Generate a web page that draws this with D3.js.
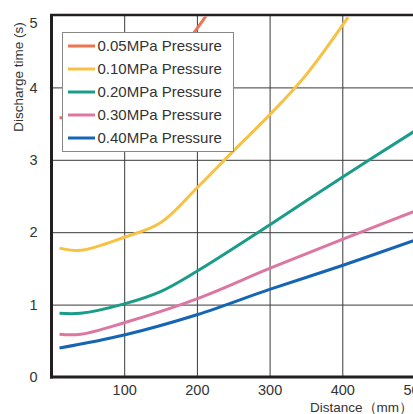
<!DOCTYPE html>
<html>
<head>
<meta charset="utf-8">
<script src="https://cdn.jsdelivr.net/npm/d3@7"></script>
<style>
  body { margin: 0; background: #fff; }
  svg { display: block; font-family: "Liberation Sans", Arial, sans-serif; }
</style>
</head>
<body>
<script>
// ---- data ----
var series_names = ["0.05MPa Pressure", "0.10MPa Pressure", "0.20MPa Pressure", "0.30MPa Pressure", "0.40MPa Pressure"];
var series_colors = ["#ee7552", "#f7c143", "#1a9c88", "#dc77a2", "#1565b4"];

var p005 = [[11, 3.58], [50, 3.62], [100, 3.85], [150, 4.2], [197, 4.77], [220, 5.1]];
var p010 = [[11, 1.78], [40, 1.75], [100, 1.93], [150, 2.13], [200, 2.61], [250, 3.12], [300, 3.62], [350, 4.17], [408, 4.97]];
var p020 = [[11, 0.88], [40, 0.88], [100, 1.01], [150, 1.18], [200, 1.46], [300, 2.1], [400, 2.76], [500, 3.4]];
var p030 = [[11, 0.59], [40, 0.59], [100, 0.75], [200, 1.08], [300, 1.5], [400, 1.9], [500, 2.29]];
var p040 = [[11, 0.4], [100, 0.58], [200, 0.86], [300, 1.21], [400, 1.54], [500, 1.89]];
var all_series = [p005, p010, p020, p030, p040];

var x_ticks = [100, 200, 300, 400, 500];
var y_ticks = [0, 1, 2, 3, 4, 5];

// ---- layout ----
var chart_w = 413, chart_h = 414;
var plot_left = 51.5, plot_right = 415, plot_top = 15, plot_bottom = 377;

var svg = d3.select("body").append("svg")
	.attr("width", chart_w)
	.attr("height", chart_h);

var x = d3.scaleLinear().domain([0, 500]).range([plot_left, plot_right]);
var y = d3.scaleLinear().domain([0, 5]).range([plot_bottom, plot_top]);

//grid lines
svg.append("g")
	.attr("transform", "translate(0," + plot_bottom + ")")
	.call(d3.axisBottom(x).tickValues([100, 200, 300, 400]).tickSize(-(plot_bottom - plot_top)).tickFormat(""))
	.call(function (g) { g.select(".domain").remove(); })
	.selectAll("line").attr("stroke", "#3a3a3a").attr("stroke-width", 1);

svg.append("g")
	.attr("transform", "translate(" + plot_left + ",0)")
	.call(d3.axisLeft(y).tickValues([1, 2, 3, 4]).tickSize(-(plot_right - plot_left)).tickFormat(""))
	.call(function (g) { g.select(".domain").remove(); })
	.selectAll("line").attr("stroke", "#3a3a3a").attr("stroke-width", 1);

//tick labels
var xa = svg.append("g")
	.attr("transform", "translate(0," + plot_bottom + ")")
	.call(d3.axisBottom(x).tickValues(x_ticks).tickSize(0).tickPadding(8).tickFormat(d3.format("d")));
xa.select(".domain").remove();
xa.selectAll("text").attr("font-size", 14.5).attr("fill", "#333").attr("font-family", "Liberation Sans, Arial, sans-serif");

var ya = svg.append("g")
	.attr("transform", "translate(" + plot_left + ",0)")
	.call(d3.axisLeft(y).tickValues(y_ticks).tickSize(0).tickPadding(14).tickFormat(d3.format("d")));
ya.select(".domain").remove();
ya.selectAll("text").attr("font-size", 14.5).attr("fill", "#333").attr("font-family", "Liberation Sans, Arial, sans-serif");
// top label sits a little lower, like the reference
ya.selectAll(".tick").filter(function (d) { return d === 5; }).select("text").attr("dy", "0.85em");

//frame: left, bottom, top
svg.append("line").attr("x1", plot_left).attr("x2", plot_left).attr("y1", plot_top - 1).attr("y2", plot_bottom + 1.5)
	.attr("stroke", "#231f20").attr("stroke-width", 3);
svg.append("line").attr("x1", plot_left - 1.5).attr("x2", chart_w).attr("y1", plot_bottom).attr("y2", plot_bottom)
	.attr("stroke", "#231f20").attr("stroke-width", 3);
svg.append("line").attr("x1", plot_left - 1.5).attr("x2", chart_w).attr("y1", plot_top).attr("y2", plot_top)
	.attr("stroke", "#231f20").attr("stroke-width", 2.5);

//curves
svg.append("clipPath").attr("id", "plot_clip")
	.append("rect").attr("x", plot_left + 1.5).attr("y", plot_top + 1.5)
	.attr("width", plot_right - plot_left).attr("height", plot_bottom - plot_top - 3);

var line = d3.line()
	.x(function (d) { return x(d[0]); })
	.y(function (d) { return y(d[1]); })
	.curve(d3.curveCatmullRom.alpha(0.5));

svg.append("g").attr("clip-path", "url(#plot_clip)")
	.selectAll("path")
	.data(all_series)
	.join("path")
	.attr("d", line)
	.attr("fill", "none")
	.attr("stroke", function (d, i) { return series_colors[i]; })
	.attr("stroke-width", 3);

//legend
var lg = svg.append("g");
lg.append("rect")
	.attr("x", 62.5).attr("y", 32.5).attr("width", 171).attr("height", 119)
	.attr("fill", "#fff").attr("stroke", "#888").attr("stroke-width", 1);

var rows = lg.selectAll("g.row")
	.data(series_names)
	.join("g")
	.attr("class", "row")
	.attr("transform", function (d, i) { return "translate(0," + (46 + i * 23) + ")"; });
rows.append("line")
	.attr("x1", 68).attr("x2", 95).attr("y1", 0).attr("y2", 0)
	.attr("stroke", function (d, i) { return series_colors[i]; })
	.attr("stroke-width", 3);
rows.append("text")
	.attr("x", 97.5).attr("y", 0).attr("dy", "0.36em")
	.attr("font-size", 15).attr("fill", "#333")
	.text(function (d) { return d; });

//axis titles
svg.append("text")
	.attr("x", 413).attr("y", 411.5)
	.attr("text-anchor", "end")
	.attr("font-size", 13.5).attr("fill", "#333")
	.text("Distance（mm）");

svg.append("text")
	.attr("transform", "translate(23,77) rotate(-90)")
	.attr("text-anchor", "middle")
	.attr("font-size", 13.5).attr("fill", "#333")
	.text("Discharge time (s)");
</script>
</body>
</html>
